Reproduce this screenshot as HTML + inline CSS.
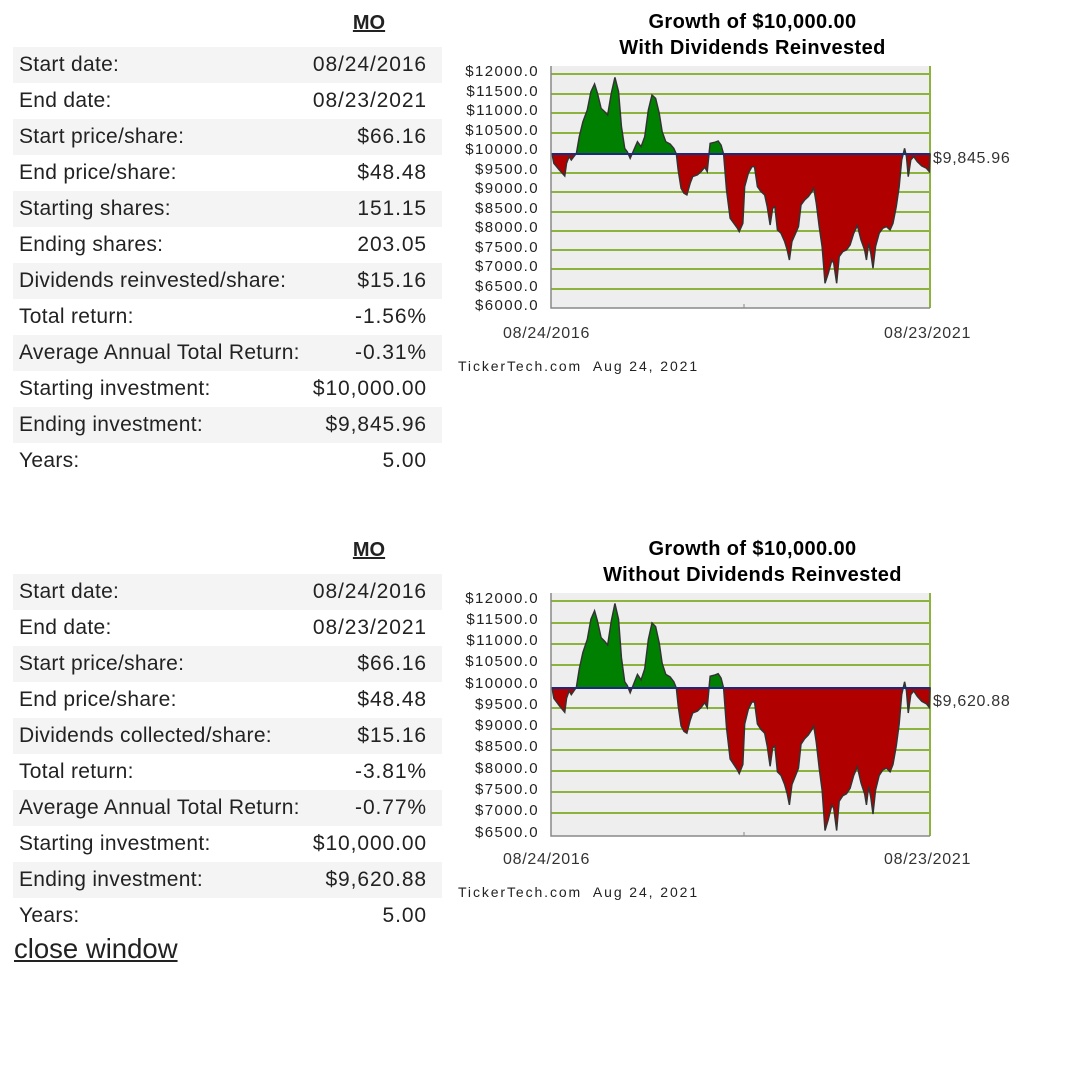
<!DOCTYPE html>
<html><head><meta charset="utf-8"><style>
body{margin:0;width:1080px;height:1075px;background:#fff;position:relative;font-family:"Liberation Sans",Roboto,sans-serif;color:#222;overflow:hidden}
.t{position:absolute;left:13px;width:429px}
.r{height:36px;position:relative;font-size:21px;line-height:36px}
.r:nth-child(odd){background:#f4f4f4}
.r span{position:absolute;left:6px;letter-spacing:0.3px}
.r b{position:absolute;right:15px;font-weight:normal;letter-spacing:0.9px}
.hd{position:absolute;font-weight:bold;font-size:20px;text-decoration:underline;width:60px;text-align:center}
.ti{position:absolute;left:540px;width:425px;text-align:center;font-weight:bold;font-size:20px;letter-spacing:0.4px;line-height:26px;color:#000}
.yl{position:absolute;font-size:15px;letter-spacing:1.4px;width:84px;text-align:right;color:#222;line-height:14px}
.sm{position:absolute;font-size:16px;letter-spacing:0.7px;color:#333}
.tt{position:absolute;font-size:14px;letter-spacing:1.9px;color:#222}
</style></head><body>
<div class="hd" style="left:339px;top:12px">MO</div>
<div class="ti" style="top:9px">Growth of $10,000.00<br>With Dividends Reinvested</div>
<div class="t" style="top:47px">
<div class="r"><span>Start date:</span><b>08/24/2016</b></div>
<div class="r"><span>End date:</span><b>08/23/2021</b></div>
<div class="r"><span>Start price/share:</span><b>$66.16</b></div>
<div class="r"><span>End price/share:</span><b>$48.48</b></div>
<div class="r"><span>Starting shares:</span><b>151.15</b></div>
<div class="r"><span>Ending shares:</span><b>203.05</b></div>
<div class="r"><span>Dividends reinvested/share:</span><b>$15.16</b></div>
<div class="r"><span>Total return:</span><b>-1.56%</b></div>
<div class="r"><span>Average Annual Total Return:</span><b>-0.31%</b></div>
<div class="r"><span>Starting investment:</span><b>$10,000.00</b></div>
<div class="r"><span>Ending investment:</span><b>$9,845.96</b></div>
<div class="r"><span>Years:</span><b>5.00</b></div>
</div>

<div class="hd" style="left:339px;top:539px">MO</div>
<div class="ti" style="top:536px">Growth of $10,000.00<br>Without Dividends Reinvested</div>
<div class="t" style="top:574px">
<div class="r"><span>Start date:</span><b>08/24/2016</b></div>
<div class="r"><span>End date:</span><b>08/23/2021</b></div>
<div class="r"><span>Start price/share:</span><b>$66.16</b></div>
<div class="r"><span>End price/share:</span><b>$48.48</b></div>
<div class="r"><span>Dividends collected/share:</span><b>$15.16</b></div>
<div class="r"><span>Total return:</span><b>-3.81%</b></div>
<div class="r"><span>Average Annual Total Return:</span><b>-0.77%</b></div>
<div class="r"><span>Starting investment:</span><b>$10,000.00</b></div>
<div class="r"><span>Ending investment:</span><b>$9,620.88</b></div>
<div class="r"><span>Years:</span><b>5.00</b></div>
</div>
<div style="position:absolute;left:14px;top:933px;font-size:27.5px;text-decoration:underline;color:#222">close window</div>

<svg width="1080" height="1075" style="position:absolute;left:0;top:0">
<defs>
<path id="p" d="M265,282 L270,310 285,330 300,348 305,310 312,290 318,300 325,290 332,280 340,230 350,185 362,150 372,95 382,72 390,100 400,145 410,155 418,165 428,100 438,52 448,95 456,200 465,265 472,275 480,295 490,270 500,245 510,260 520,230 530,150 540,105 550,115 560,160 568,215 578,245 590,252 600,265 607,282 612,330 620,385 628,400 636,405 645,370 652,350 665,345 675,335 685,322 692,335 698,270 700,250 712,247 722,243 730,255 737,282 745,390 755,475 765,490 775,505 780,515 790,490 795,380 805,340 815,320 822,320 830,380 840,395 850,405 857,440 865,495 872,445 878,440 885,510 895,520 905,545 912,570 918,600 925,545 935,520 943,500 950,435 960,420 970,410 980,395 985,385 992,430 1000,500 1008,560 1016,670 1025,640 1035,600 1040,610 1048,670 1055,590 1065,575 1075,570 1085,555 1095,520 1105,497 1115,540 1125,570 1130,600 1136,550 1142,580 1148,625 1155,560 1165,520 1175,505 1185,500 1195,510 1203,490 1212,440 1220,380 1227,300 1235,265 1240,290 1245,350 1252,300 1260,290 1270,305 1282,318 1295,325 1303,335 1305,282 Z"/>
<clipPath id="up"><rect x="0" y="-500" width="2000" height="782"/></clipPath>
<clipPath id="dn"><rect x="0" y="282" width="2000" height="1500"/></clipPath>
</defs>
<rect x="551" y="66" width="379" height="242" fill="#eeeeee"/>
<g stroke="#8cb33c" stroke-width="2">
<line x1="551" x2="930" y1="74" y2="74"/><line x1="551" x2="930" y1="94" y2="94"/><line x1="551" x2="930" y1="113" y2="113"/><line x1="551" x2="930" y1="133" y2="133"/><line x1="551" x2="930" y1="173" y2="173"/><line x1="551" x2="930" y1="192" y2="192"/><line x1="551" x2="930" y1="212" y2="212"/><line x1="551" x2="930" y1="231" y2="231"/><line x1="551" x2="930" y1="250" y2="250"/><line x1="551" x2="930" y1="269" y2="269"/><line x1="551" x2="930" y1="289" y2="289"/>
<line x1="930" x2="930" y1="66" y2="308"/>
</g>
<g transform="translate(455.7,60) scale(0.3635,0.3333)">
<use href="#p" fill="#008000" clip-path="url(#up)"/>
<use href="#p" fill="#b00000" clip-path="url(#dn)"/>
<use href="#p" fill="none" stroke="#333" stroke-width="4"/>
</g>
<line x1="551" x2="930" y1="154" y2="154" stroke="#1a2a80" stroke-width="2"/>
<path d="M551,66 V308 H930" fill="none" stroke="#888" stroke-width="1.5"/>
<line x1="744" x2="744" y1="304" y2="308" stroke="#888"/>
<rect x="551" y="593" width="379" height="243" fill="#eeeeee"/>
<g stroke="#8cb33c" stroke-width="2">
<line x1="551" x2="930" y1="601" y2="601"/><line x1="551" x2="930" y1="623" y2="623"/><line x1="551" x2="930" y1="644" y2="644"/><line x1="551" x2="930" y1="665" y2="665"/><line x1="551" x2="930" y1="708" y2="708"/><line x1="551" x2="930" y1="729" y2="729"/><line x1="551" x2="930" y1="750" y2="750"/><line x1="551" x2="930" y1="771" y2="771"/><line x1="551" x2="930" y1="792" y2="792"/><line x1="551" x2="930" y1="813" y2="813"/>
<line x1="930" x2="930" y1="593" y2="836"/>
</g>
<g transform="translate(455.7,688) scale(0.3635,0.3675) translate(0,-282)">
<use href="#p" fill="#008000" clip-path="url(#up)"/>
<use href="#p" fill="#b00000" clip-path="url(#dn)"/>
<use href="#p" fill="none" stroke="#333" stroke-width="4"/>
</g>
<line x1="551" x2="930" y1="688" y2="688" stroke="#1a2a80" stroke-width="2"/>
<path d="M551,593 V836 H930" fill="none" stroke="#888" stroke-width="1.5"/>
<line x1="744" x2="744" y1="832" y2="836" stroke="#888"/>
</svg>

<div class="yl" style="left:455px;top:65px">$12000.0</div>
<div class="yl" style="left:455px;top:85px">$11500.0</div>
<div class="yl" style="left:455px;top:104px">$11000.0</div>
<div class="yl" style="left:455px;top:124px">$10500.0</div>
<div class="yl" style="left:455px;top:143px">$10000.0</div>
<div class="yl" style="left:455px;top:163px">$9500.0</div>
<div class="yl" style="left:455px;top:182px">$9000.0</div>
<div class="yl" style="left:455px;top:202px">$8500.0</div>
<div class="yl" style="left:455px;top:221px">$8000.0</div>
<div class="yl" style="left:455px;top:241px">$7500.0</div>
<div class="yl" style="left:455px;top:260px">$7000.0</div>
<div class="yl" style="left:455px;top:280px">$6500.0</div>
<div class="yl" style="left:455px;top:299px">$6000.0</div>
<div class="sm" style="left:933px;top:150px">$9,845.96</div>
<div class="sm" style="left:503px;top:325px">08/24/2016</div>
<div class="sm" style="left:884px;top:325px">08/23/2021</div>
<div class="tt" style="left:458px;top:358px">TickerTech.com&nbsp; Aug 24, 2021</div>

<div class="yl" style="left:455px;top:592px">$12000.0</div>
<div class="yl" style="left:455px;top:613px">$11500.0</div>
<div class="yl" style="left:455px;top:634px">$11000.0</div>
<div class="yl" style="left:455px;top:655px">$10500.0</div>
<div class="yl" style="left:455px;top:677px">$10000.0</div>
<div class="yl" style="left:455px;top:698px">$9500.0</div>
<div class="yl" style="left:455px;top:719px">$9000.0</div>
<div class="yl" style="left:455px;top:740px">$8500.0</div>
<div class="yl" style="left:455px;top:762px">$8000.0</div>
<div class="yl" style="left:455px;top:783px">$7500.0</div>
<div class="yl" style="left:455px;top:804px">$7000.0</div>
<div class="yl" style="left:455px;top:826px">$6500.0</div>
<div class="sm" style="left:933px;top:693px">$9,620.88</div>
<div class="sm" style="left:503px;top:851px">08/24/2016</div>
<div class="sm" style="left:884px;top:851px">08/23/2021</div>
<div class="tt" style="left:458px;top:884px">TickerTech.com&nbsp; Aug 24, 2021</div>
</body></html>
